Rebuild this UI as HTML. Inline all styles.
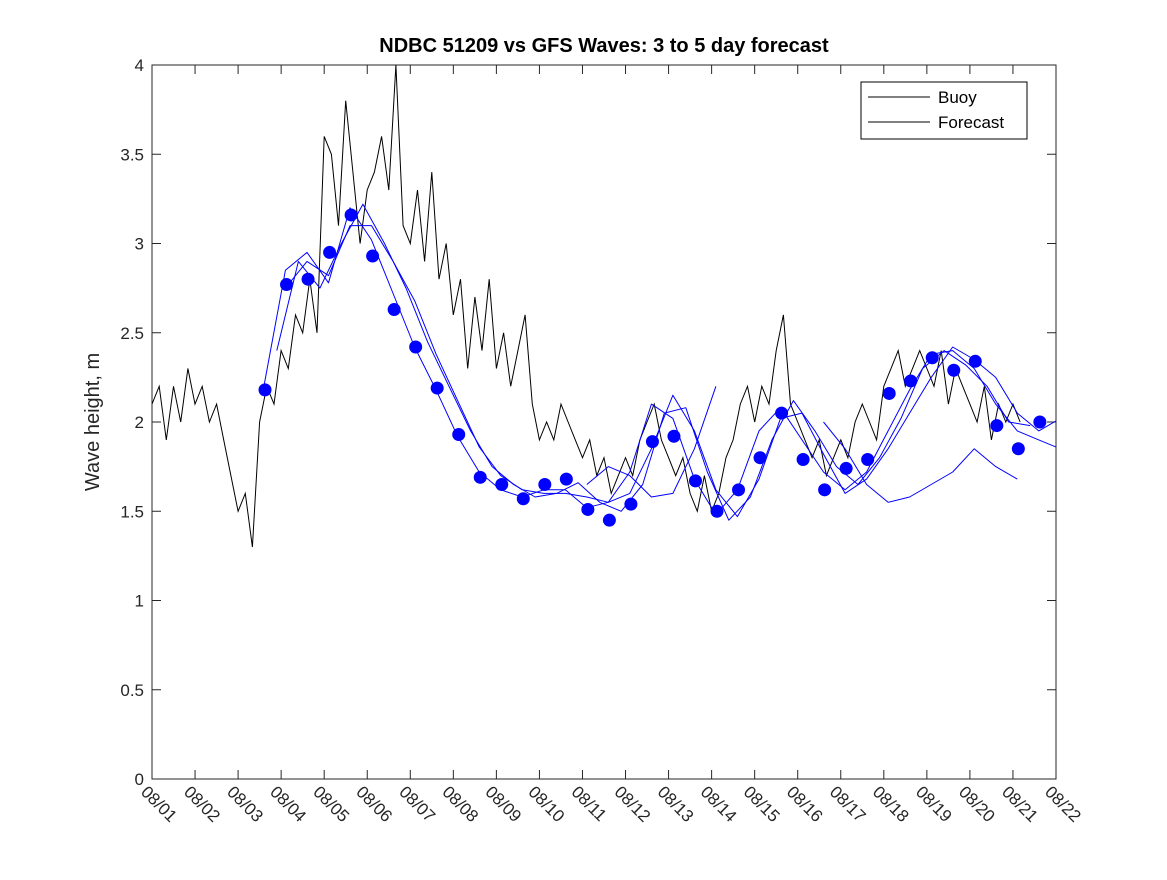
<!DOCTYPE html>
<html><head><meta charset="utf-8"><style>
body{margin:0;background:#fff;}
svg{font-family:"Liberation Sans",sans-serif;}
</style></head><body>
<svg id="chart" width="1167" height="875">
<defs><clipPath id="plotclip"><rect x="152" y="65" width="904" height="714"/></clipPath></defs>
<rect x="0" y="0" width="1167" height="875" fill="#fff"/>
<text x="604" y="52" text-anchor="middle" font-size="20" font-weight="bold" fill="#000">NDBC 51209 vs GFS Waves: 3 to 5 day forecast</text>
<text transform="translate(99,422) rotate(-90)" text-anchor="middle" font-size="20" fill="#262626">Wave height, m</text>
<g id="axes"></g>
<g id="marks" clip-path="url(#plotclip)"></g>
<g>
<rect x="861" y="82" width="166" height="57" fill="#fff" stroke="#000" stroke-width="1"/>
<line x1="868" y1="97" x2="930" y2="97" stroke="#000"/>
<text x="938" y="103" font-size="17" fill="#000">Buoy</text>
<line x1="868" y1="122" x2="930" y2="122" stroke="#000"/>
<text x="938" y="128" font-size="17" fill="#000">Forecast</text>
</g>
</svg>
<script>
const xTickLabels=["08/01","08/02","08/03","08/04","08/05","08/06","08/07","08/08","08/09","08/10","08/11","08/12","08/13","08/14","08/15","08/16","08/17","08/18","08/19","08/20","08/21","08/22"];
const yTicks=[0,0.5,1,1.5,2,2.5,3,3.5,4];
const buoyStep=1/6;
const buoyValues=[2.1,2.2,1.9,2.2,2.0,2.3, 2.1,2.2,2.0,2.1,1.9,1.7,
1.5,1.6,1.3,2.0,2.2,2.1, 2.4,2.3,2.6,2.5,2.8,2.5, 3.6,3.5,3.1,3.8,3.4,3.0, 3.3,3.4,3.6,3.3,4.0,3.1,
3.0,3.3,2.9,3.4,2.8,3.0, 2.6,2.8,2.3,2.7,2.4,2.8, 2.3,2.5,2.2,2.4,2.6,2.1, 1.9,2.0,1.9,2.1,2.0,1.9,
1.8,1.9,1.7,1.8,1.6,1.7, 1.8,1.7,1.9,2.0,2.1,1.9, 1.8,1.7,1.8,1.6,1.5,1.7, 1.5,1.6,1.8,1.9,2.1,2.2,
2.0,2.2,2.1,2.4,2.6,2.1, 2.0,1.9,1.8,1.9,1.7,1.8, 1.9,1.8,2.0,2.1,2.0,1.9, 2.2,2.3,2.4,2.2,2.3,2.4,
2.3,2.2,2.4,2.1,2.3,2.2, 2.1,2.0,2.2,1.9,2.1,2.0, 2.1,2.0];
const dotStart=2.625, dotStep=0.5;
const dotValues=[2.18,2.77,2.80,2.95,3.16,2.93,2.63,2.42,2.19,1.93,1.69,1.65,1.57,1.65,1.68,1.51,1.45,1.54,1.89,1.92,1.67,1.50,1.62,1.80,2.05,1.79,1.62,1.74,1.79,2.16,2.23,2.36,2.29,2.34,1.98,1.85,2.00];
const fcStarts=[2.6,3.1,2.9,10.1,15.6];
const fc1=[2.2,2.85,2.95,2.78,3.2,3.02,2.72,2.42,2.18,1.92,1.72,1.62,1.58,1.62,1.62,1.52,1.55,1.72,2.1,2.02,1.68,1.48,1.62,1.95,2.08,1.9,1.72,1.62,1.72,1.95,2.18,2.38,2.4,2.3,2.1,1.95,1.9,1.85,1.92];
const fc2=[2.75,2.9,2.82,3.1,3.1,2.9,2.68,2.38,2.12,1.86,1.7,1.62,1.6,1.6,1.58,1.55,1.6,1.85,2.15,1.95,1.62,1.47,1.68,2.02,2.05,1.82,1.6,1.68,1.85,2.05,2.25,2.42,2.35,2.25,2.05,1.95,2.02,2.1];
const fc3=[2.4,2.9,2.75,3.0,3.22,3.0,2.75,2.45,2.2,1.95,1.75,1.65,1.58,1.6,1.66,1.55,1.5,1.65,2.05,2.08,1.72,1.45,1.58,1.9,2.12,1.95,1.75,1.65,1.8,2.02,2.3,2.4,2.32,2.2,2.0,1.98];
const fc4=[1.65,1.75,1.7,1.58,1.6,1.85,2.2];
const fc5=[2.0,1.85,1.65,1.55,1.58,1.65,1.72,1.85,1.75,1.68];
const fcSeries=[fc1,fc2,fc3,fc4,fc5];

const L=152,R=1056,T=65,B=779;
const xs=d=>L+d*(R-L)/21;
const ys=v=>B-v*(B-T)/4;
const NS="http://www.w3.org/2000/svg";
const axes=document.getElementById('axes'), marks=document.getElementById('marks');
function mk(tag,attrs,parent){const e=document.createElementNS(NS,tag);for(const k in attrs)e.setAttribute(k,attrs[k]);parent.appendChild(e);return e;}
const frame=mk('rect',{x:L,y:T,width:R-L,height:B-T,fill:'none',stroke:'#262626','stroke-width':1},axes);


yTicks.forEach(v=>{
  const y=ys(v);
  mk('line',{x1:L,y1:y,x2:L+9,y2:y,stroke:'#262626'},axes);
  mk('line',{x1:R,y1:y,x2:R-9,y2:y,stroke:'#262626'},axes);
  const t=mk('text',{x:L-8,y:y+6,'text-anchor':'end','font-size':17,fill:'#262626'},axes);
  t.textContent=String(v);
  
  
});
xTickLabels.forEach((lab,i)=>{
  const x=xs(i);
  mk('line',{x1:x,y1:B,x2:x,y2:B-9,stroke:'#262626'},axes);
  mk('line',{x1:x,y1:T,x2:x,y2:T+9,stroke:'#262626'},axes);
  const t=mk('text',{transform:`translate(${x-12},${B+14}) rotate(45)`,'font-size':17,fill:'#262626'},axes);
  t.textContent=lab;
  
  
});
let d='';
buoyValues.forEach((v,i)=>{d+=(i?'L':'M')+xs(i*buoyStep).toFixed(1)+','+ys(v).toFixed(1);});
const bp=mk('path',{d:d,fill:'none',stroke:'#000','stroke-width':1},marks);


fcSeries.forEach((s,k)=>{
  let p='';
  s.forEach((v,i)=>{p+=(i?'L':'M')+xs(fcStarts[k]+i*0.5).toFixed(1)+','+ys(v).toFixed(1);});
  const e=mk('path',{d:p,fill:'none',stroke:'#0000ff','stroke-width':1,'stroke-linejoin':'round'},marks);
  
  
});
dotValues.forEach((v,i)=>{
  const c=mk('circle',{cx:xs(dotStart+i*dotStep),cy:ys(v),r:6.5,fill:'#0000ff'},marks);
  
  
});
</script>
</body></html>
